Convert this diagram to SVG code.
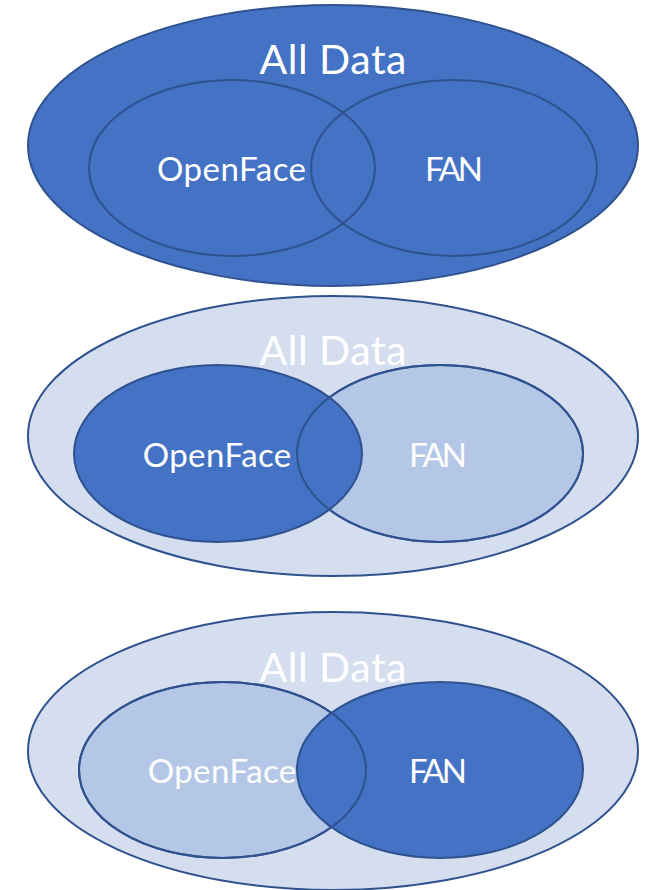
<svg xmlns="http://www.w3.org/2000/svg" width="649" height="890" viewBox="0 0 649 890">
<style>
.dark{fill:#4472C4;stroke:#2F528F;stroke-width:2}
.ring{fill:none;stroke:#2F528F;stroke-width:2}
.outerlight{fill:#D5DEEF;stroke:#2F528F;stroke-width:2}
.light{fill:#B4C7E7;stroke:#2F528F;stroke-width:2}
.edge{fill:none;stroke:#2F528F;stroke-width:2}
text{font-family:Lato,"Open Sans","Liberation Sans",sans-serif;fill:#FFFFFF;text-anchor:middle}
.big{font-size:41px}
.mid{font-size:33px}
</style>
<rect width="649" height="890" fill="#FFFFFF"/>
<!-- Diagram 1 -->
<g id="all-data-1"><ellipse class="dark" cx="333" cy="145.5" rx="305" ry="140.5"/></g>
<g id="openface-1"><ellipse class="ring" cx="232" cy="168" rx="143" ry="88"/></g>
<g id="fan-1"><ellipse class="ring" cx="454" cy="168" rx="143" ry="88"/></g>
<g id="labels-1">
<text class="big" x="333" y="74" textLength="147">All Data</text>
<text class="mid" x="231.5" y="181" textLength="149">OpenFace</text>
<text class="mid" x="454" y="181" textLength="58">FAN</text>
</g>
<!-- Diagram 2 -->
<g id="all-data-2"><ellipse class="outerlight" cx="333" cy="436" rx="305" ry="140"/></g>
<g id="fan-2"><ellipse class="light" cx="440" cy="453.5" rx="143" ry="88.5"/></g>
<g id="openface-2"><ellipse class="dark" cx="218" cy="453.5" rx="144" ry="88.5"/></g>
<g id="fan-2-outline"><ellipse class="edge" cx="440" cy="453.5" rx="143" ry="88.5"/></g>
<g id="labels-2">
<text class="big" x="333" y="365" textLength="147">All Data</text>
<text class="mid" x="217" y="467" textLength="148.5">OpenFace</text>
<text class="mid" x="438" y="467" textLength="58">FAN</text>
</g>
<!-- Diagram 3 -->
<g id="all-data-3"><ellipse class="outerlight" cx="333" cy="751" rx="305" ry="139"/></g>
<g id="openface-3"><ellipse class="light" cx="222.5" cy="770" rx="143.5" ry="88"/></g>
<g id="fan-3"><ellipse class="dark" cx="440" cy="770" rx="143" ry="88"/></g>
<g id="openface-3-outline"><ellipse class="edge" cx="222.5" cy="770" rx="143.5" ry="88"/></g>
<g id="labels-3">
<text class="big" x="333" y="682" textLength="147">All Data</text>
<text class="mid" x="222" y="783" textLength="148.5">OpenFace</text>
<text class="mid" x="438" y="783" textLength="58">FAN</text>
</g>
<g id="connectors"/>
</svg>
